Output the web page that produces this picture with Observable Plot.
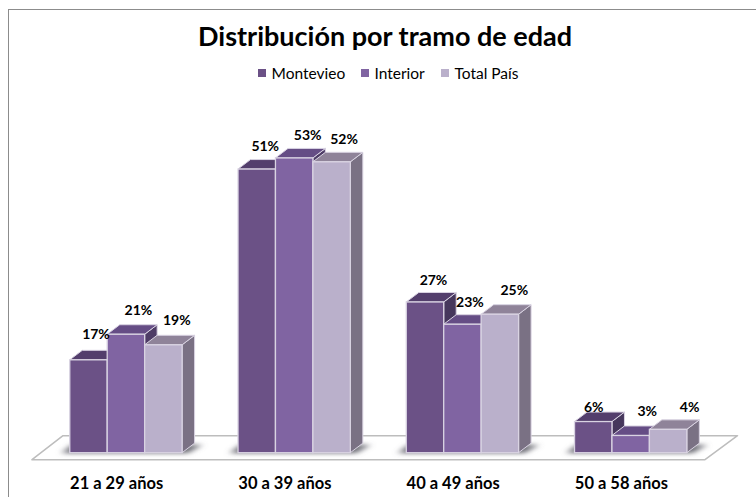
<!DOCTYPE html>
<html lang="es">
<head>
<meta charset="utf-8">
<script src="https://cdn.jsdelivr.net/npm/d3@7"></script>
<script src="https://cdn.jsdelivr.net/npm/@observablehq/plot@0.6"></script>
<style>
html,body{margin:0;padding:0;background:#fff;overflow:hidden}
#frame{position:absolute;left:8px;top:9px;width:748px;height:488px;border-left:1.5px solid #8c8c8c;border-top:1.5px solid #8c8c8c;box-sizing:border-box}
#head{position:absolute;left:0;top:0;width:756px;height:90px;font-family:Lato,sans-serif;color:#000}
#title{position:absolute;left:0;width:770px;top:19px;text-align:center;font-size:27px;font-weight:700;line-height:34px}
#legend{position:absolute;left:0;top:64px;height:18px;font-size:15.5px;line-height:18px}
.item{position:absolute;top:0;white-space:nowrap}
.sw{position:absolute;left:0;top:5px;width:8px;height:8px}
.lb{position:absolute;left:13.5px;top:0}
#chart{position:absolute;left:0;top:90px}
#chart svg{display:block;overflow:visible}
</style>
</head>
<body>
<div id="frame"></div>
<div id="head">
  <div id="title"></div>
  <div id="legend"></div>
</div>
<div id="chart"></div>
<script>
const chartTitle = "Distribución por tramo de edad";
const categories = ["21 a 29 años", "30 a 39 años", "40 a 49 años", "50 a 58 años"];
const seriesNames = ["Montevieo", "Interior", "Total País"];
const montevideo = [16.7, 51, 27.1, 5.6];
const interior = [21.3, 53, 23.1, 3.1];
const totalPais = [19.4, 52.3, 24.9, 4.2];
const seriesValues = [montevideo, interior, totalPais];

// Styling (not data)
const frontColors = ["#6b5186", "#8064a2", "#bab0cb"];
const topColors = ["#533e6c", "#654d85", "#8f8399"];
const sideColors = ["#46375c", "#4e3c66", "#7a7184"];
const depth = [12.5, -9.5];      // oblique offset of the 3D faces, px
const legendX = [258, 361, 441];
// Offsets of the value labels relative to each bar's top, px [group][series]
const labelNudge = [
  [[7, -26], [12, -24], [13, -25]],
  [[8, -23], [13, -23], [12, -23]],
  [[8, -22], [7, -22], [14, -24]],
  [[0, -15], [16, -24], [21, -22]]
];

// Bars occupy this part of each category slot, in slot units
const barStart = 0.2245, barWidth = 0.2225;

const rows = categories.flatMap((category, g) =>
  seriesNames.map((series, s) => ({
    category, series, g, s,
    value: seriesValues[s][g],
    x1: g + barStart + s * barWidth,
    x2: g + barStart + (s + 1) * barWidth
  }))
);

const NS = "http://www.w3.org/2000/svg";
const poly = (pts, fill, stroke) => {
  const p = document.createElementNS(NS, "polygon");
  p.setAttribute("points", pts.map(d => d.join(",")).join(" "));
  p.setAttribute("fill", fill);
  if (stroke) { p.setAttribute("stroke", stroke); p.setAttribute("stroke-width", 1); p.setAttribute("stroke-linejoin", "round"); }
  return p;
};

// Floor parallelogram and soft shadows, placed from the scales
function floorMark(index, {x, y}) {
  const g = document.createElementNS(NS, "g");
  const y0 = y(0);
  g.appendChild(poly([[x(0), y0 + 7], [x(4), y0 + 7], [x(4) + 32.5, y0 - 17], [x(0) + 31, y0 - 17]], "#fff", "#bdbdbd"));
  g.lastChild.setAttribute("stroke-width", 1.5);
  const defs = document.createElementNS(NS, "defs");
  defs.innerHTML = '<filter id="blur" x="-20%" y="-100%" width="140%" height="300%"><feGaussianBlur stdDeviation="3.5 2"/></filter>';
  g.appendChild(defs);
  categories.forEach((c, i) => {
    const l = x(i + barStart), r = x(i + barStart + 3 * barWidth);
    const s = poly([[l - 8, y0 + 0.5], [r + 6, y0 + 0.5], [r + 20, y0 - 8], [l + 2, y0 - 8]], "#707078");
    s.setAttribute("filter", "url(#blur)");
    g.appendChild(s);
  });
  return g;
}

const plot = Plot.plot({
  width: 756,
  height: 407,
  marginLeft: 32,
  marginRight: 51,
  marginTop: 29,
  marginBottom: 44.3,
  style: {background: "transparent", overflow: "visible"},
  x: {domain: [0, 4], axis: null},
  y: {domain: [0, 60], axis: null},
  color: {domain: seriesNames, range: frontColors},
  marks: [
    floorMark,
    Plot.rectY(rows, {
      x1: "x1", x2: "x2", y1: 0, y2: "value", fill: "series",
      stroke: "#d9d3e2", strokeWidth: 1.3,
      render(index, scales, values, dimensions, context, next) {
        const g = next(index, scales, values, dimensions, context);
        const [dx, dy] = depth;
        const rects = [...g.querySelectorAll("rect")];
        rects.forEach((r, k) => {
          const d = rows[index[k]];
          const a = +r.getAttribute("x"), b = a + +r.getAttribute("width");
          const t = +r.getAttribute("y"), u = t + +r.getAttribute("height");
          const side = poly([[b, t], [b + dx, t + dy], [b + dx, u + dy], [b, u]], sideColors[d.s], "#d9d3e2");
          const top = poly([[a, t], [a + dx, t + dy], [b + dx, t + dy], [b, t]], topColors[d.s], "#d9d3e2");
          g.insertBefore(side, r);
          g.insertBefore(top, r);
        });
        return g;
      }
    }),
    Plot.axisX({
      ticks: categories.map((c, i) => i + 0.5),
      tickFormat: v => categories[Math.floor(v)],
      tickSize: 0,
      tickPadding: 24.5,
      label: null,
      fontSize: 16.5,
      fontWeight: 700,
      fontFamily: "Lato, sans-serif",
      fill: "#000"
    }),
    ...rows.map(d => Plot.text([d], {
      x: r => (r.x1 + r.x2) / 2,
      y: "value",
      text: r => Math.round(r.value) + "%",
      dx: labelNudge[d.g][d.s][0],
      dy: labelNudge[d.g][d.s][1],
      fontSize: 14,
      fontWeight: 700,
      fontFamily: "Lato, sans-serif",
      fill: "#000",
      textAnchor: "middle",
      lineAnchor: "middle"
    }))
  ]
});
document.getElementById("chart").appendChild(plot);
document.getElementById("title").textContent = chartTitle;
const legend = document.getElementById("legend");
seriesNames.forEach((name, i) => {
  const it = document.createElement("div");
  it.className = "item";
  it.style.left = legendX[i] + "px";
  const sw = document.createElement("div");
  sw.className = "sw";
  sw.style.background = frontColors[i];
  const lb = document.createElement("div");
  lb.className = "lb";
  lb.textContent = name;
  it.append(sw, lb);
  legend.appendChild(it);
});
</script>
</body>
</html>
